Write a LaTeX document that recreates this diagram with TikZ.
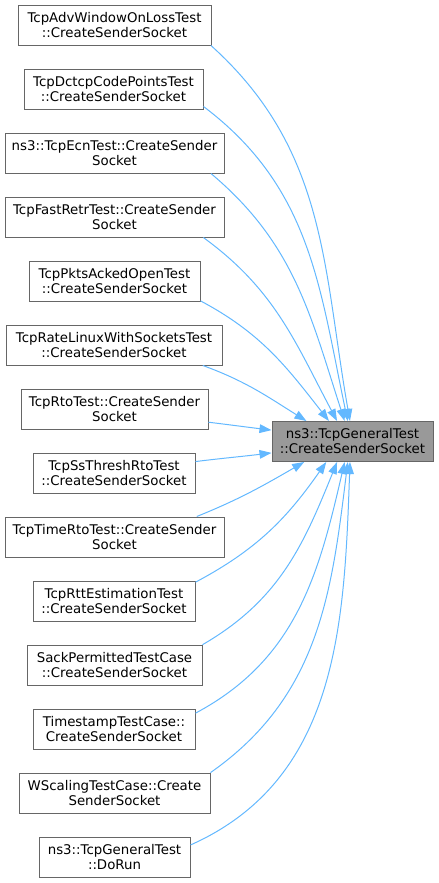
\documentclass[tikz,border=0pt]{standalone}
\usepackage{fontspec}
\setmainfont{DejaVu Sans}
\usetikzlibrary{arrows.meta}
\definecolor{edgeblue}{HTML}{63B8FF}
\definecolor{boxgray}{HTML}{666666}
\definecolor{hitgray}{HTML}{999999}

\begin{document}
\begin{tikzpicture}[
  x=0.75pt, y=0.75pt,
  font=\fontsize{10}{11.25}\selectfont,
  >={Triangle[length=9pt,width=6.5pt]},
  fn/.style  ={draw=boxgray, line width=0.75pt, align=center, inner sep=0pt,
               minimum height=30pt, minimum width=#1*0.75pt},
  hit/.style ={fn=#1, fill=hitgray},
  call/.style={->, draw=edgeblue, line width=0.75pt},
]
\useasboundingbox (0,0) rectangle (439,-883);

%% ---------------- callers ----------------
\node[fn=193] (c1)  at (114.5,-25)  {TcpAdvWindowOnLossTest\\::CreateSenderSocket};
\node[fn=179] (c2)  at (113.5,-89)  {TcpDctcpCodePointsTest\\::CreateSenderSocket};
\node[fn=219] (c3)  at (114.5,-153) {ns3::TcpEcnTest::CreateSender\\Socket};
\node[fn=219] (c4)  at (114.5,-217) {TcpFastRetrTest::CreateSender\\Socket};
\node[fn=171] (c5)  at (114.5,-281) {TcpPktsAckedOpenTest\\::CreateSenderSocket};
\node[fn=216] (c6)  at (114,-345)   {TcpRateLinuxWithSocketsTest\\::CreateSenderSocket};
\node[fn=187] (c7)  at (114.5,-409) {TcpRtoTest::CreateSender\\Socket};
\node[fn=162] (c8)  at (114,-473)   {TcpSsThreshRtoTest\\::CreateSenderSocket};
\node[fn=219] (c9)  at (114.5,-537) {TcpTimeRtoTest::CreateSender\\Socket};
\node[fn=162] (c10) at (114,-601)   {TcpRttEstimationTest\\::CreateSenderSocket};
\node[fn=175] (c11) at (114.5,-665) {SackPermittedTestCase\\::CreateSenderSocket};
\node[fn=162] (c12) at (114,-729)   {TimestampTestCase::\\CreateSenderSocket};
\node[fn=191] (c13) at (114.5,-793) {WScalingTestCase::Create\\SenderSocket};
\node[fn=151] (c14) at (114.5,-857) {ns3::TcpGeneralTest\\::DoRun};

%% ---------------- callee ----------------
\node[hit=161] (tgt) at (352.5,-441.5) {ns3::TcpGeneralTest\\::CreateSenderSocket};

%% ---------------- calls ----------------
\foreach \i/\a/\o/\b/\n in {
  1/-12/-42/97/100, 2/-11/-37/103/102, 3/-12/-40/111/108,
  4/-13/-36/127/118, 5/-13/-28/139/128, 6/-13/-20/156/148,
  7/-8/-7/172/173, 8/8/7/188/187, 9/14/22/203/-150,
  10/13/28/218/-125, 11/13/30/233/-112, 12/11/28/249/-103,
  13/12/35/257/-97, 14/9/24/263/-92}{
  \draw[call] (c\i.\a) to[out=\o, in=\n] (tgt.\b);
}

\end{tikzpicture}
\end{document}
